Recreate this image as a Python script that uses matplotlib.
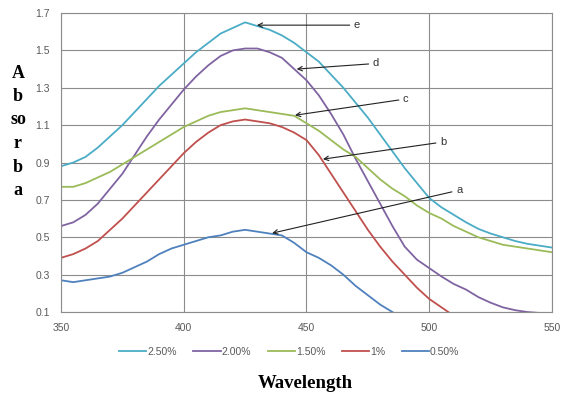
import numpy as np
import matplotlib.pyplot as plt

wavelength = list(range(350, 555, 5))

# absorbance, one value every 5 nm (nan = below the axis)
abs_250 = [0.88, 0.90, 0.93, 0.98, 1.04, 1.10, 1.17, 1.24, 1.31, 1.37, 1.43, 1.49, 1.54, 1.59, 1.62, 1.65, 1.63, 1.61, 1.58, 1.54,
           1.49, 1.44, 1.37, 1.30, 1.22, 1.14, 1.05, 0.96, 0.87, 0.79, 0.71, 0.66, 0.62, 0.58, 0.545, 0.52, 0.50, 0.48, 0.465, 0.455, 0.445]
abs_200 = [0.56, 0.58, 0.62, 0.68, 0.76, 0.84, 0.94, 1.04, 1.13, 1.21, 1.29, 1.36, 1.42, 1.47, 1.50, 1.51, 1.51, 1.49, 1.46, 1.40,
           1.34, 1.26, 1.16, 1.05, 0.92, 0.80, 0.68, 0.56, 0.45, 0.38, 0.335, 0.29, 0.25, 0.22, 0.18, 0.15, 0.125, 0.11, 0.10, 0.095, 0.09]
abs_150 = [0.77, 0.77, 0.79, 0.82, 0.85, 0.89, 0.93, 0.97, 1.01, 1.05, 1.09, 1.12, 1.15, 1.17, 1.18, 1.19, 1.18, 1.17, 1.16, 1.15,
           1.11, 1.07, 1.02, 0.97, 0.93, 0.87, 0.81, 0.76, 0.72, 0.67, 0.63, 0.60, 0.56, 0.53, 0.50, 0.48, 0.46, 0.45, 0.44, 0.43, 0.42]
abs_100 = [0.39, 0.41, 0.44, 0.48, 0.54, 0.60, 0.67, 0.74, 0.81, 0.88, 0.95, 1.01, 1.06, 1.10, 1.12, 1.13, 1.12, 1.11, 1.09, 1.06,
           1.02, 0.94, 0.84, 0.74, 0.64, 0.54, 0.45, 0.37, 0.30, 0.23, 0.17, 0.125, 0.08, np.nan, np.nan, np.nan, np.nan, np.nan, np.nan, np.nan, np.nan]
abs_050 = [0.27, 0.26, 0.27, 0.28, 0.29, 0.31, 0.34, 0.37, 0.41, 0.44, 0.46, 0.48, 0.50, 0.51, 0.53, 0.54, 0.53, 0.52, 0.51, 0.47,
           0.42, 0.39, 0.35, 0.30, 0.24, 0.19, 0.14, 0.10, 0.06, np.nan, np.nan, np.nan, np.nan, np.nan, np.nan, np.nan, np.nan, np.nan, np.nan, np.nan, np.nan]

series = [("2.50%", abs_250, "#4BACC6"),
          ("2.00%", abs_200, "#8064A2"),
          ("1.50%", abs_150, "#9BBB59"),
          ("1%", abs_100, "#C0504D"),
          ("0.50%", abs_050, "#4F81BD")]

# label, arrow tip (x, y), text position (x, y)
notes = [("e", (429.8, 1.635), (469.3, 1.635)),
         ("d", (446.0, 1.40), (477.0, 1.43)),
         ("c", (445.3, 1.153), (489.3, 1.24)),
         ("b", (456.7, 0.918), (504.4, 1.01)),
         ("a", (436.0, 0.522), (510.9, 0.752))]

fig = plt.figure(figsize=(5.63, 3.94), dpi=100)
ax = fig.add_axes([0.1083, 0.208, 0.8722, 0.759])

for name, vals, col in series:
    ax.plot(wavelength, vals, color=col, lw=1.3, label=name)

for txt, tip, pos in notes:
    ax.annotate(txt, xy=tip, xytext=pos, fontsize=8, color="#333333",
                ha="left", va="center", family="Liberation Sans",
                arrowprops=dict(arrowstyle="->", color="#222222", lw=0.8,
                                shrinkA=1, shrinkB=0))

ax.set_xlim(350, 550)
ax.set_ylim(0.1, 1.7)
ax.set_xticks([350, 400, 450, 500, 550])
ax.set_yticks(np.arange(0.1, 1.71, 0.2))
ax.set_yticklabels(["0.1", "0.3", "0.5", "0.7", "0.9", "1.1", "1.3", "1.5", "1.7"])
ax.grid(True, color="#8c8c8c", lw=0.8)
ax.set_axisbelow(True)
for s in ax.spines.values():
    s.set_color("#8c8c8c")
    s.set_linewidth(0.8)
ax.tick_params(length=0, labelsize=7.5, labelcolor="#595959", pad=8)
for lab in ax.get_xticklabels() + ax.get_yticklabels():
    lab.set_family("Liberation Sans")

leg = ax.legend(loc="upper center", bbox_to_anchor=(0.465, -0.085), ncol=5,
                frameon=False, fontsize=7.5, handlelength=2.6, handletextpad=0.1,
                columnspacing=1.6)
for t in leg.get_texts():
    t.set_color("#595959")
    t.set_family("Liberation Sans")

# stacked y label as in the original
for i, part in enumerate(["A", "b", "so", "r", "b", "a"]):
    fig.text(18 / 563, 1 - (73 + i * 23.5) / 394, part, fontsize=13, fontweight="bold",
             family="Liberation Serif", ha="center", va="center")

fig.text(305 / 563, 1 - 383 / 394, "Wavelength", fontsize=13.5, fontweight="bold",
         family="Liberation Serif", ha="center", va="center")

fig.savefig("out.png", dpi=100)
